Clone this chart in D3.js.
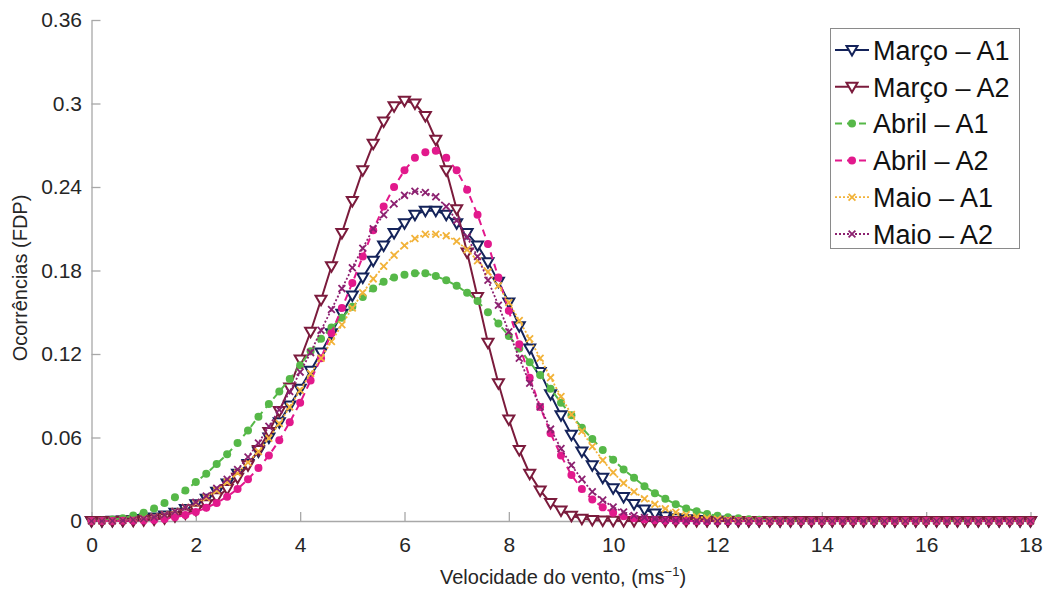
<!DOCTYPE html>
<html>
<head>
<meta charset="utf-8">
<script src="https://cdn.jsdelivr.net/npm/d3@7/dist/d3.min.js"></script>
<style>
  body { margin: 0; background: #fff; }
  svg { display: block; font-family: "Liberation Sans", Arial, sans-serif; }
</style>
</head>
<body>
<div id="chart"></div>
<script>
// Velocidade do vento (m/s), passo 0.2
const velocidade = [
  0, 0.2, 0.4, 0.6, 0.8, 1, 1.2, 1.4, 1.6, 1.8,
  2, 2.2, 2.4, 2.6, 2.8, 3, 3.2, 3.4, 3.6, 3.8,
  4, 4.2, 4.4, 4.6, 4.8, 5, 5.2, 5.4, 5.6, 5.8,
  6, 6.2, 6.4, 6.6, 6.8, 7, 7.2, 7.4, 7.6, 7.8,
  8, 8.2, 8.4, 8.6, 8.8, 9, 9.2, 9.4, 9.6, 9.8,
  10, 10.2, 10.4, 10.6, 10.8, 11, 11.2, 11.4, 11.6, 11.8,
  12, 12.2, 12.4, 12.6, 12.8, 13, 13.2, 13.4, 13.6, 13.8,
  14, 14.2, 14.4, 14.6, 14.8, 15, 15.2, 15.4, 15.6, 15.8,
  16, 16.2, 16.4, 16.6, 16.8, 17, 17.2, 17.4, 17.6, 17.8,
  18
];

// FDP
const marcoA1 = [
  0, 0, 0.0001, 0.0003, 0.0007, 0.0014, 0.0025, 0.004, 0.006, 0.0087,
  0.012, 0.016, 0.021, 0.027, 0.034, 0.041, 0.050, 0.060, 0.071, 0.083,
  0.095, 0.108, 0.121, 0.135, 0.149, 0.162, 0.175, 0.187, 0.198, 0.207,
  0.214, 0.220, 0.223, 0.223, 0.220, 0.214, 0.207, 0.198, 0.186, 0.172,
  0.157, 0.140, 0.124, 0.107, 0.091, 0.076, 0.062, 0.050, 0.040, 0.031,
  0.0235, 0.0172, 0.0122, 0.0083, 0.0054, 0.0034, 0.002, 0.0012, 0.0007, 0.0004,
  0.0002, 0.0001, 0, 0, 0, 0, 0, 0, 0, 0,
  0, 0, 0, 0, 0, 0, 0, 0, 0, 0,
  0, 0, 0, 0, 0, 0, 0, 0, 0, 0,
  0
];
const marcoA2 = [
  0, 0, 0, 0.0001, 0.0002, 0.0005, 0.0011, 0.002, 0.0034, 0.0054,
  0.008, 0.012, 0.017, 0.023, 0.031, 0.040, 0.051, 0.064, 0.079, 0.096,
  0.116, 0.136, 0.159, 0.183, 0.207, 0.230, 0.252, 0.271, 0.287, 0.298,
  0.302, 0.300, 0.291, 0.274, 0.252, 0.224, 0.193, 0.161, 0.128, 0.099,
  0.073, 0.051, 0.034, 0.022, 0.013, 0.0075, 0.0038, 0.0017, 0.0007, 0.0003,
  0.0001, 0, 0, 0, 0, 0, 0, 0, 0, 0,
  0, 0, 0, 0, 0, 0, 0, 0, 0, 0,
  0, 0, 0, 0, 0, 0, 0, 0, 0, 0,
  0, 0, 0, 0, 0, 0, 0, 0, 0, 0,
  0
];
const abrilA1 = [
  0, 0.0002, 0.001, 0.002, 0.004, 0.006, 0.009, 0.013, 0.017, 0.022,
  0.028, 0.034, 0.041, 0.048, 0.056, 0.065, 0.075, 0.084, 0.093, 0.102,
  0.112, 0.122, 0.131, 0.139, 0.146, 0.154, 0.161, 0.167, 0.172, 0.175,
  0.177, 0.178, 0.178, 0.176, 0.173, 0.169, 0.164, 0.158, 0.150, 0.142,
  0.133, 0.124, 0.114, 0.105, 0.095, 0.085, 0.076, 0.067, 0.059, 0.051,
  0.044, 0.037, 0.031, 0.025, 0.020, 0.016, 0.012, 0.009, 0.007, 0.005,
  0.0037, 0.0027, 0.0019, 0.0013, 0.0009, 0.0006, 0.0004, 0.0003, 0.0002, 0.0001,
  0, 0, 0, 0, 0, 0, 0, 0, 0, 0,
  0, 0, 0, 0, 0, 0, 0, 0, 0, 0,
  0
];
const abrilA2 = [
  0, 0, 0, 0.0001, 0.0002, 0.0004, 0.0008, 0.0015, 0.0027, 0.0043,
  0.0065, 0.0095, 0.013, 0.0175, 0.023, 0.030, 0.038, 0.047, 0.058, 0.071,
  0.085, 0.101, 0.117, 0.135, 0.153, 0.171, 0.190, 0.209, 0.226, 0.240,
  0.252, 0.261, 0.265, 0.266, 0.261, 0.252, 0.238, 0.220, 0.199, 0.175,
  0.151, 0.127, 0.103, 0.082, 0.063, 0.047, 0.033, 0.023, 0.0155, 0.0098,
  0.006, 0.0035, 0.0019, 0.001, 0.0005, 0.0002, 0.0001, 0, 0, 0,
  0, 0, 0, 0, 0, 0, 0, 0, 0, 0,
  0, 0, 0, 0, 0, 0, 0, 0, 0, 0,
  0, 0, 0, 0, 0, 0, 0, 0, 0, 0,
  0
];
const maioA1 = [
  0, 0, 0.0001, 0.0004, 0.0009, 0.0017, 0.003, 0.0047, 0.007, 0.0098,
  0.013, 0.017, 0.022, 0.028, 0.0345, 0.042, 0.050, 0.0595, 0.070, 0.082,
  0.094, 0.106, 0.117, 0.129, 0.141, 0.153, 0.164, 0.174, 0.183, 0.191,
  0.198, 0.203, 0.206, 0.206, 0.205, 0.201, 0.195, 0.187, 0.179, 0.169,
  0.157, 0.144, 0.131, 0.117, 0.103, 0.0895, 0.0765, 0.0645, 0.0535, 0.0437,
  0.0348, 0.0272, 0.021, 0.016, 0.012, 0.0088, 0.0063, 0.0045, 0.0031, 0.0021,
  0.0014, 0.0009, 0.0006, 0.0004, 0.0002, 0.0001, 0, 0, 0, 0,
  0, 0, 0, 0, 0, 0, 0, 0, 0, 0,
  0, 0, 0, 0, 0, 0, 0, 0, 0, 0,
  0
];
const maioA2 = [
  0, 0, 0.0001, 0.0003, 0.0008, 0.0016, 0.0028, 0.0045, 0.0068, 0.0097,
  0.0135, 0.018, 0.0235, 0.030, 0.037, 0.046, 0.056, 0.068, 0.080, 0.093,
  0.107, 0.121, 0.137, 0.152, 0.167, 0.182, 0.196, 0.210, 0.220, 0.228,
  0.234, 0.237, 0.236, 0.233, 0.226, 0.216, 0.204, 0.190, 0.173, 0.155,
  0.136, 0.117, 0.099, 0.082, 0.066, 0.052, 0.040, 0.030, 0.021, 0.015,
  0.010, 0.0065, 0.004, 0.0025, 0.0015, 0.0008, 0.0004, 0.0002, 0.0001, 0,
  0, 0, 0, 0, 0, 0, 0, 0, 0, 0,
  0, 0, 0, 0, 0, 0, 0, 0, 0, 0,
  0, 0, 0, 0, 0, 0, 0, 0, 0, 0,
  0
];

const nomesSeries = ["Março – A1", "Março – A2", "Abril – A1", "Abril – A2", "Maio – A1", "Maio – A2"];
const xTicks = [0, 2, 4, 6, 8, 10, 12, 14, 16, 18];
const yTicks = [0, 0.06, 0.12, 0.18, 0.24, 0.3, 0.36];

// estilos
const estilos = [
  { color: "#14235a", dash: null, marker: "tri", lw: 2 },
  { color: "#7b1b3c", dash: null, marker: "tri", lw: 2 },
  { color: "#56b848", dash: "7,5", marker: "circ", lw: 2 },
  { color: "#e2198c", dash: "7,5", marker: "circ", lw: 2 },
  { color: "#f2b33a", dash: "2,2", marker: "x", lw: 1.8 },
  { color: "#8c2170", dash: "2,2", marker: "x", lw: 1.8 }
];
const valores = [marcoA1, marcoA2, abrilA1, abrilA2, maioA1, maioA2];

const series = nomesSeries.map((nome, i) => ({
  nome: nome,
  pontos: velocidade.map((v, j) => ({ v: v, p: valores[i][j] })),
  ...estilos[i]
}));

const width = 1048, height = 592;

const svg = d3.select("#chart")
  .append("svg")
  .attr("width", width)
  .attr("height", height);

const x = d3.scaleLinear().domain([0, 18]).range([91.5, 1030.5]);
const y = d3.scaleLinear().domain([0, 0.36]).range([521, 20]);

// Eixos
const gx = svg.append("g")
  .attr("transform", `translate(0,${y(0)})`)
  .call(d3.axisBottom(x).tickValues(xTicks).tickSizeInner(-9).tickSizeOuter(0).tickPadding(16));

const gy = svg.append("g")
  .attr("transform", `translate(${x(0)},0)`)
  .call(d3.axisLeft(y).tickValues(yTicks).tickFormat(d => String(d)).tickSizeInner(-9).tickSizeOuter(0).tickPadding(9.5));

[gx, gy].forEach(g => {
  g.select(".domain").attr("stroke", "#a8a8a8").attr("stroke-width", 1.3);
  g.selectAll(".tick line").attr("stroke", "#a8a8a8").attr("stroke-width", 1.3);
  g.selectAll(".tick text").attr("fill", "#262626").attr("font-size", "21px")
    .attr("font-family", "'Liberation Sans', Arial, sans-serif");
});

// Títulos dos eixos
const xt = svg.append("text")
  .attr("x", 563)
  .attr("y", 584)
  .attr("text-anchor", "middle")
  .attr("font-size", "20px")
  .attr("fill", "#262626");
xt.append("tspan").text("Velocidade do vento, (ms");
xt.append("tspan").attr("font-size", "13px").attr("dy", "-8").text("−1");
xt.append("tspan").attr("dy", "8").text(")");

svg.append("text")
  .attr("transform", "translate(27,278) rotate(-90)")
  .attr("text-anchor", "middle")
  .attr("font-size", "20px")
  .attr("fill", "#262626")
  .text("Ocorrências (FDP)");

// Marcadores
function drawMarker(g, s, cx, cy) {
  if (s.marker === "tri") {
    g.append("path")
      .attr("d", `M${cx - 5.5},${cy - 4}L${cx + 5.5},${cy - 4}L${cx},${cy + 5.5}Z`)
      .attr("fill", "#fff")
      .attr("stroke", s.color)
      .attr("stroke-width", 2);
  } else if (s.marker === "circ") {
    g.append("circle")
      .attr("cx", cx).attr("cy", cy).attr("r", 4)
      .attr("fill", s.color);
  } else {
    g.append("path")
      .attr("d", `M${cx - 3.4},${cy - 3.4}L${cx + 3.4},${cy + 3.4}M${cx - 3.4},${cy + 3.4}L${cx + 3.4},${cy - 3.4}`)
      .attr("stroke", s.color)
      .attr("stroke-width", 1.8)
      .attr("fill", "none");
  }
}

const line = d3.line().x(d => x(d.v)).y(d => y(d.p));

series.forEach(s => {
  const g = svg.append("g");
  g.append("path")
    .datum(s.pontos)
    .attr("d", line)
    .attr("fill", "none")
    .attr("stroke", s.color)
    .attr("stroke-width", s.lw)
    .attr("stroke-dasharray", s.dash);
  s.pontos.forEach(d => drawMarker(g, s, x(d.v), y(d.p)));
});

// Legenda
const legend = svg.append("g");
legend.append("rect")
  .attr("x", 830.5).attr("y", 28.5)
  .attr("width", 189).attr("height", 220)
  .attr("fill", "#fff")
  .attr("stroke", "#8a8a8a")
  .attr("stroke-width", 1);

series.forEach((s, i) => {
  const ly = 50 + i * 36.8;
  const g = legend.append("g");
  g.append("line")
    .attr("x1", 835).attr("x2", 869)
    .attr("y1", ly).attr("y2", ly)
    .attr("stroke", s.color)
    .attr("stroke-width", s.lw)
    .attr("stroke-dasharray", s.dash);
  drawMarker(g, s, 852, ly);
  g.append("text")
    .attr("x", 873)
    .attr("y", ly)
    .attr("dy", "0.36em")
    .attr("font-size", "27px")
    .attr("fill", "#111")
    .text(s.nome);
});
</script>
</body>
</html>
